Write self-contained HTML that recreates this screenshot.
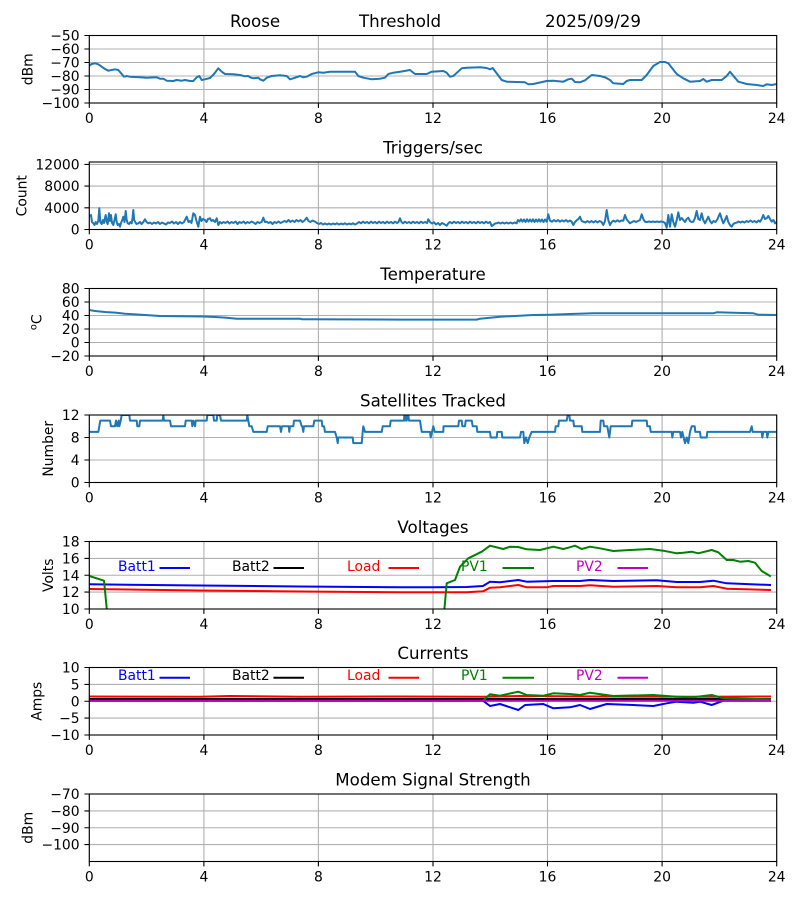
<!DOCTYPE html>
<html><head><meta charset="utf-8"><style>
html,body{margin:0;padding:0;background:#fff;}
svg{display:block;}
text{font-family:"DejaVu Sans","Liberation Sans",sans-serif;fill:#000;}
.tk{font-size:13.9px;}
.ti{font-size:16.67px;}
.g{stroke:#b0b0b0;stroke-width:1.1;fill:none;}
.sp{stroke:#000;stroke-width:1.1;fill:none;}
.d{fill:none;stroke-width:2;stroke-linejoin:round;stroke-linecap:square;}
</style></head><body>
<svg width="800" height="900" viewBox="0 0 800 900" xmlns="http://www.w3.org/2000/svg">
<rect width="800" height="900" fill="#fff"/>
<defs>
<clipPath id="c1"><rect x="89.3" y="35.5" width="687.4" height="67.5"/></clipPath>
<clipPath id="c2"><rect x="89.3" y="162" width="687.4" height="67.5"/></clipPath>
<clipPath id="c3"><rect x="89.3" y="288.5" width="687.4" height="67.5"/></clipPath>
<clipPath id="c4"><rect x="89.3" y="415" width="687.4" height="67.5"/></clipPath>
<clipPath id="c5"><rect x="89.3" y="541.5" width="687.4" height="67.5"/></clipPath>
<clipPath id="c6"><rect x="89.3" y="667.5" width="687.4" height="67.5"/></clipPath>
</defs>

<!-- ============ AXES 1 : Threshold ============ -->
<g class="g">
<path d="M89.3 35.5V103M203.9 35.5V103M318.4 35.5V103M433 35.5V103M547.5 35.5V103M662.1 35.5V103M776.7 35.5V103"/>
<path d="M89.3 35.5H776.7M89.3 49H776.7M89.3 62.5H776.7M89.3 76H776.7M89.3 89.5H776.7M89.3 103H776.7"/>
</g>
<polyline clip-path="url(#c1)" class="d" stroke="#1f77b4" points="89.3,65.7 91.7,64 95,63.3 98.3,64.3 101.7,66.7 105,69 108.3,70.7 111.7,70 115,69.3 118.3,70 121.7,74 124,76.7 126.7,76 130,76.7 140,77.3 146.7,77.7 156.7,77.3 160,78.7 163.3,78.7 166.7,80.7 173.3,81 176.7,80 181.7,80.7 185,80 190,81 193.3,81 196.7,77.3 199.3,76 201.7,80 205,79.3 210,78 214,74 218.3,68.3 221.7,71.7 225,74 233.3,74.3 240,75 245,76.3 248.3,76 250,77.3 253.3,78.3 258.3,77.7 260,79.3 263.3,80.7 266.7,77.7 271.7,76 280,75.3 286.7,76 290,79.3 293.3,78.3 300,76 303.3,77.3 306.7,76.7 311.7,74 318.3,72.3 323.3,72.7 330,71.7 343.3,71.7 355,71.7 358.3,76 363.3,77.7 371.7,79.3 380,78.7 385,77.7 388.3,74 393.3,72.7 400,71.7 410,70 415,74 426.7,74 431.7,71.7 443.3,71 446.7,72.7 450,76.7 453.3,76 461.7,68.3 466.7,67.7 480,67.3 486.7,68 490,69.3 492.7,68 501.7,80 506.7,81.7 525,82.3 528.3,84.3 533.3,84 546.7,81 553.3,80.7 563.3,81.7 568.3,79.3 571.7,78.7 575,82 580,82.3 585,80.3 591.7,75 600,76 605,77.3 610,80 613.3,83.3 623.3,84 626.7,81 630,80 641.7,80 646.7,75 653.3,66 660,62 665,62 668.3,63.3 676.7,74 683.3,78.3 690,81.7 700,81 703.3,79 706.7,81.7 711.7,80 721.7,80 726.7,76 730,71.7 733.3,75.7 738.3,81.7 746.7,84 756.7,85 763.3,86 766.7,84.3 771.7,85 776.7,84"/>
<rect class="sp" x="89.3" y="35.5" width="687.4" height="67.5"/>
<path class="sp" d="M89.3 103v4.9M203.9 103v4.9M318.4 103v4.9M433 103v4.9M547.5 103v4.9M662.1 103v4.9M776.7 103v4.9M89.3 35.5h-4.9M89.3 49h-4.9M89.3 62.5h-4.9M89.3 76h-4.9M89.3 89.5h-4.9M89.3 103h-4.9"/>
<g class="tk" text-anchor="end">
<text x="79.6" y="40.5">−50</text><text x="79.6" y="54">−60</text><text x="79.6" y="67.5">−70</text><text x="79.6" y="81">−80</text><text x="79.6" y="94.5">−90</text><text x="79.6" y="108">−100</text>
</g>
<g class="tk" text-anchor="middle">
<text x="89.3" y="122.8">0</text><text x="203.9" y="122.8">4</text><text x="318.4" y="122.8">8</text><text x="433" y="122.8">12</text><text x="547.5" y="122.8">16</text><text x="662.1" y="122.8">20</text><text x="776.7" y="122.8">24</text>
</g>
<text class="tk" text-anchor="middle" transform="translate(32.5,69.25) rotate(-90)">dBm</text>
<text class="ti" x="230" y="27.2">Roose</text>
<text class="ti" x="359" y="27.2">Threshold</text>
<text class="ti" x="545" y="27.2">2025/09/29</text>

<!-- ============ AXES 2 : Triggers ============ -->
<g class="g">
<path d="M89.3 162V229.5M203.9 162V229.5M318.4 162V229.5M433 162V229.5M547.5 162V229.5M662.1 162V229.5M776.7 162V229.5"/>
<path d="M89.3 229.5H776.7M89.3 207.8H776.7M89.3 186.1H776.7M89.3 164.4H776.7"/>
</g>
<polyline clip-path="url(#c2)" class="d" stroke-width="1.8" stroke="#1f77b4" points="89.3,216 91,215 92,222 93.3,223.3 94.5,225 95.7,222 97,224 98.3,221 99.3,208.3 100.3,222 101.7,224 102.8,220 104,223 105,218 105.7,215 106.7,222 107.7,224 108.3,219 109,213.3 110,221 111,215 112,223 113.3,225 114.5,220 115.7,214.3 116.7,222 117.7,225 119,224 120,226.7 121,223 122.3,220 123.3,216.7 124.5,222 125.7,211 126.7,220 127.7,223.3 129,224 130.5,222 131.7,223.3 132.5,218 133.3,210 134.2,220 135,221.7 136.5,224 138.3,223.3 140,222 141.5,224 143,222.5 145,219.3 146.5,222 148.3,223.3 150,222.5 152,224 154,222.5 156,223.5 158,222 160,224 162,222.5 164,223.5 166,224.5 168,222.5 170,223 172,221.5 174,223.5 176,222 178,224 180,222 182,223.5 184,222 186.7,216.7 188.5,222 190,221 191.5,223 193.3,213.3 195,215 196.5,221 198.3,226.7 200,216.7 201.5,221 203,219 205,220 206.5,222 208,219 210,218.3 211.5,221 213,220 215,222 216.7,218.3 218.3,225 220,222 221.7,223.3 223.5,222 225.5,223 227.5,221.5 229.5,223.5 231.5,222 233.5,223 235.5,221.5 237.5,224 239.5,222 241.5,223 243.5,221.5 245.5,223.5 247.5,222 249.5,223 251.5,221.5 253.5,222.5 255.5,224 257.5,222 259.5,223 261.7,222 263.3,217.7 265,222 266.7,221.7 268.5,223 270.5,222 272.5,224 274.5,222 276.5,223 278.5,221.5 280.5,223 282.5,222 284.5,221 286.5,222 288.5,220 290.5,222 292.5,220.5 294.5,222 296.5,220 298.5,221.5 300.5,220 302.5,222 304.5,220.5 306.7,217.7 308.5,221 310.5,222 312.5,220.5 315,221.7 317,223 319,224 321,223 323,224.5 325,223.5 327,224.5 329,223.5 331,224.5 333,223.5 335,224.3 337,223.3 339,224.5 341,223.5 343,224.3 345,223.3 347,224.5 349,223.5 351,224.3 353,223.3 355,224.5 357,223.5 359,222 361,223.3 363,221.7 365,223 367,222 369,223.3 371,221.7 373,223 375,222 377,223.3 379,221.7 381,223 383,222 385,223.3 387,221.7 389,223 391,222 393,223.3 395,221.7 397,223 398.5,222 400,218.3 401.5,222 403,223.3 405,221.7 407,223 409,222 411,223.3 413,221.7 415,223 417,222 419,223.3 421,221.7 423,223 425,222 427,223 428.3,219.3 430,222 432,223.5 434,222.3 436,224.5 438,223 440,225 442,223 444,224 446.7,225.7 448.5,223 450,222 452,223.3 454,221.7 456,223 458,222 460,223.3 462,221.7 464,223 466,222 468,223.3 470,221.7 472,223 474,222 476,223.3 478,221.7 480,223 482,222 484,223.3 486,221.7 488,223 490,222 491.7,226 493.3,225 495,223.5 496.7,223.3 498.5,222.5 500.5,223.5 502.5,222.5 504.5,223.5 506.5,222.5 508.5,223.5 510.5,222.5 512.5,223.5 514.5,222.5 516.7,223.3 518,220 519.5,221.5 521,219.3 522.5,221.7 524,219.5 525.5,222 527,219.3 528.5,221.7 530,219.5 531.5,221.7 533,219.3 534.5,222 536,219.5 537.5,221.7 539,219.3 540.5,221.7 542,219.5 543.5,222 545,219.5 546.7,221.7 548.3,214.3 550,220.7 552,221.7 554,220 556,221.5 558,220 560,221.7 562,220.3 564,221.5 566,220 568,221.7 570,220.5 571.5,221.5 573.3,225 575,222 577,220 578.5,219 580,216.7 581.7,221 583.3,221.7 585.5,222.5 587.5,221 589.5,222.5 591.5,221 593.5,222.5 595.5,221 597.5,222.5 599.5,221 601.5,222 603.3,225 605,221 606.7,210 608.3,220 610,225 611.7,222 613.3,220.7 615.5,221.7 617.5,220.3 619.5,221.7 621.5,220.5 623.3,220.7 625,215 626.5,219 628,221 630,223.3 632,222 634,221 636,222 638,221 640,220 641.7,214.3 643.3,219 645,221.7 647,222 649,221.5 651,222 653,221.5 655,222 657,221.5 659,222 661,221.5 663.3,222 665,223 666.7,227.7 668.3,215 670,226.7 671.7,214.3 673.3,222 675,226.7 676.7,220 678.3,212.3 680,220 681.7,218 683.3,220 685,222 686.7,219 688.3,217.7 690,221 691.7,222 693.3,221.7 695,218 696.7,211 698.3,219 700,220 701.7,213.3 703.3,220 705,223.3 706.7,220 708.3,216.7 710,221 711.7,223.3 713.5,221 715.5,222 717.5,219 720,213.3 721.7,219 723.3,223.3 725,220 726.7,216 728.3,222 730,225 731.7,226.7 733.3,224 735,223 736.7,222.7 738.5,221.5 740.5,222.5 742.5,221.5 744.5,222.5 746.5,221 748.5,222 750.5,220.5 752.5,222 754.5,221 756.5,222.5 758.5,220.5 760,221.7 761.7,219 763.3,215 765,219 766.7,218.3 768.3,216 770,219 771.7,221.7 773.5,220 775,223.3 776.7,222"/>
<rect class="sp" x="89.3" y="162" width="687.4" height="67.5"/>
<path class="sp" d="M89.3 229.5v4.9M203.9 229.5v4.9M318.4 229.5v4.9M433 229.5v4.9M547.5 229.5v4.9M662.1 229.5v4.9M776.7 229.5v4.9M89.3 229.5h-4.9M89.3 207.8h-4.9M89.3 186.1h-4.9M89.3 164.4h-4.9"/>
<g class="tk" text-anchor="end">
<text x="79.6" y="234.5">0</text><text x="79.6" y="212.8">4000</text><text x="79.6" y="191.1">8000</text><text x="79.6" y="169.4">12000</text>
</g>
<g class="tk" text-anchor="middle">
<text x="89.3" y="249.3">0</text><text x="203.9" y="249.3">4</text><text x="318.4" y="249.3">8</text><text x="433" y="249.3">12</text><text x="547.5" y="249.3">16</text><text x="662.1" y="249.3">20</text><text x="776.7" y="249.3">24</text>
</g>
<text class="tk" text-anchor="middle" transform="translate(26.5,195.75) rotate(-90)">Count</text>
<text class="ti" x="433" y="153.7" text-anchor="middle">Triggers/sec</text>

<!-- ============ AXES 3 : Temperature ============ -->
<g class="g">
<path d="M89.3 288.5V356M203.9 288.5V356M318.4 288.5V356M433 288.5V356M547.5 288.5V356M662.1 288.5V356M776.7 288.5V356"/>
<path d="M89.3 288.5H776.7M89.3 302H776.7M89.3 315.5H776.7M89.3 329H776.7M89.3 342.5H776.7M89.3 356H776.7"/>
</g>
<polyline clip-path="url(#c3)" class="d" stroke="#1f77b4" points="89.3,310 95,311 105,312 116.7,312.7 125,313.7 133.3,314.3 145,315 160,316 203.3,316.5 215,317 226.7,317.7 236.7,318.7 300,318.7 301.7,319.3 400,319.6 476.7,319.6 480,318.7 490,317.7 500,316.7 515,316 533.3,315 550,314.7 570,314 593.3,313.3 713.3,313.3 716.7,312.3 733.3,312.7 753.3,313.3 758.3,314.7 776.7,315"/>
<rect class="sp" x="89.3" y="288.5" width="687.4" height="67.5"/>
<path class="sp" d="M89.3 356v4.9M203.9 356v4.9M318.4 356v4.9M433 356v4.9M547.5 356v4.9M662.1 356v4.9M776.7 356v4.9M89.3 288.5h-4.9M89.3 302h-4.9M89.3 315.5h-4.9M89.3 329h-4.9M89.3 342.5h-4.9M89.3 356h-4.9"/>
<g class="tk" text-anchor="end">
<text x="79.6" y="293.5">80</text><text x="79.6" y="307">60</text><text x="79.6" y="320.5">40</text><text x="79.6" y="334">20</text><text x="79.6" y="347.5">0</text><text x="79.6" y="361">−20</text>
</g>
<g class="tk" text-anchor="middle">
<text x="89.3" y="375.8">0</text><text x="203.9" y="375.8">4</text><text x="318.4" y="375.8">8</text><text x="433" y="375.8">12</text><text x="547.5" y="375.8">16</text><text x="662.1" y="375.8">20</text><text x="776.7" y="375.8">24</text>
</g>
<text class="tk" text-anchor="middle" transform="translate(41.4,322.25) rotate(-90)"><tspan font-size="9.7px" dy="-5">o</tspan><tspan dy="5">C</tspan></text>
<text class="ti" x="433" y="280.2" text-anchor="middle">Temperature</text>

<!-- ============ AXES 4 : Satellites ============ -->
<g class="g">
<path d="M89.3 415V482.5M203.9 415V482.5M318.4 415V482.5M433 415V482.5M547.5 415V482.5M662.1 415V482.5M776.7 415V482.5"/>
<path d="M89.3 415H776.7M89.3 437.5H776.7M89.3 460H776.7M89.3 482.5H776.7"/>
</g>
<polyline clip-path="url(#c4)" class="d" stroke="#1f77b4" points="89.3,431.9 98.3,431.9 99.3,426.25 100.3,420.6 110,420.6 111,426.25 115,426.25 116,420.6 117.3,426.25 118.7,420.6 119.3,426.25 120.7,420.6 121.7,415 129.3,415 130,420.6 136.7,420.6 137.3,426.25 139.3,426.25 140,420.6 162.7,420.6 163.3,415 164,420.6 170,420.6 171,426.25 185,426.25 185.7,420.6 191.7,420.6 192.3,426.25 193.3,420.6 195,426.25 195.7,420.6 206.7,420.6 207.3,415 213.3,415 214,420.6 216.7,420.6 217.3,415 220,415 221,420.6 246.7,420.6 247.3,415 248.3,420.6 249.3,426.25 251.7,426.25 253.3,431.9 266.7,431.9 267.7,426.25 280,426.25 281,431.9 282,426.25 288.7,426.25 289.3,431.9 290,426.25 293.3,426.25 294,420.6 300,420.6 301.7,426.25 302.3,426.25 303.3,431.9 304,426.25 313.3,426.25 314.3,420.6 321.7,420.6 322.3,426.25 324,426.25 325,431.9 335,431.9 336.7,437.5 337.7,443.1 338.3,437.5 352.7,437.5 353.3,443.1 361.7,443.1 362.7,431.9 363.3,426.25 365,431.9 381.7,431.9 382.7,426.25 390,426.25 390.7,420.6 404,420.6 404.3,415 405,420.6 406,415 406.7,420.6 408.3,415 409,420.6 420,420.6 421.7,431.9 430,431.9 430.7,437.5 432,431.9 433.3,426.25 434.7,431.9 443.3,431.9 443.5,426.25 458.3,426.25 459,420.6 461.7,420.6 462.3,426.25 465,426.25 465.7,420.6 471.7,420.6 472.7,426.25 476.7,426.25 477.3,431.9 490,431.9 490.7,437.5 496.7,437.5 497.3,431.9 501.7,431.9 502.3,437.5 520,437.5 521,431.9 523.3,431.9 524.3,443.1 526,437.5 527.7,443.1 529.3,437.5 531.7,431.9 555,431.9 555.7,426.25 558.3,426.25 559,420.6 566.7,420.6 567.7,415 569.3,415 570,420.6 573.3,420.6 574,426.25 581.7,426.25 582.3,431.9 600,431.9 600.7,420.6 603.3,420.6 604,426.25 607.3,426.25 608.3,431.9 609.3,437.5 610.7,426.25 631.7,426.25 632.3,420.6 646.7,420.6 647.3,426.25 650,426.25 650.7,431.9 671.7,431.9 672.3,437.5 673.3,431.9 680,431.9 681,437.5 682.3,431.9 685,443.1 686.7,437.5 688.3,443.1 690,431.9 691.7,426.25 694.7,426.25 695.3,431.9 700,431.9 700.7,437.5 706.7,437.5 707.3,431.9 750,431.9 751.7,426.25 752.7,431.9 761.7,431.9 762.3,437.5 763.3,431.9 766.7,431.9 767.3,437.5 768.3,431.9 776.7,431.9"/>
<rect class="sp" x="89.3" y="415" width="687.4" height="67.5"/>
<path class="sp" d="M89.3 482.5v4.9M203.9 482.5v4.9M318.4 482.5v4.9M433 482.5v4.9M547.5 482.5v4.9M662.1 482.5v4.9M776.7 482.5v4.9M89.3 415h-4.9M89.3 437.5h-4.9M89.3 460h-4.9M89.3 482.5h-4.9"/>
<g class="tk" text-anchor="end">
<text x="79.6" y="420">12</text><text x="79.6" y="442.5">8</text><text x="79.6" y="465">4</text><text x="79.6" y="487.5">0</text>
</g>
<g class="tk" text-anchor="middle">
<text x="89.3" y="502.3">0</text><text x="203.9" y="502.3">4</text><text x="318.4" y="502.3">8</text><text x="433" y="502.3">12</text><text x="547.5" y="502.3">16</text><text x="662.1" y="502.3">20</text><text x="776.7" y="502.3">24</text>
</g>
<text class="tk" text-anchor="middle" transform="translate(53,448.75) rotate(-90)">Number</text>
<text class="ti" x="433" y="406.7" text-anchor="middle">Satellites Tracked</text>

<!-- ============ AXES 5 : Voltages ============ -->
<g class="g">
<path d="M89.3 541.5V609M203.9 541.5V609M318.4 541.5V609M433 541.5V609M547.5 541.5V609M662.1 541.5V609M776.7 541.5V609"/>
<path d="M89.3 541.5H776.7M89.3 558.4H776.7M89.3 575.25H776.7M89.3 592.1H776.7M89.3 609H776.7"/>
</g>
<g clip-path="url(#c5)">
<polyline class="d" stroke="#0000ff" points="89.3,584.3 200,585.5 300,586.5 400,587.3 433,587.3 466.7,587 483,586 490,581.7 500,582.3 518.3,580 526.7,581.7 553.3,581 580,581 590,580 613.3,581 656.7,580.3 676.7,582 700,582 713.3,580.7 726.7,583.3 770,585"/>
<polyline class="d" stroke="#ff0000" points="89.3,589 200,590.5 300,591.5 400,592.3 466.7,592.3 483,591.3 490,587.7 500,587.3 518.3,585 526.7,587.3 546.7,587.3 553.3,586 580,586 590,585.3 613.3,586.7 656.7,586 676.7,587.3 700,587.3 713.3,586 726.7,588.7 770,590"/>
<polyline class="d" stroke="#008000" points="89.3,576 104,580.7 115,692 437,692 446.7,583.3 455,580 460,566.7 468.3,558.3 481.7,551.7 490,545.7 503.3,549 510,546.7 518.3,547 526.7,549.3 540,550 553.3,546.7 563.3,549 568.3,547.7 575,545.7 581.7,549 590,546.7 600,548.3 613.3,551 630,550 650,549 663.3,550.7 676.7,553.3 683.3,552.7 691.7,551.7 698.3,553.3 711.7,550 718.3,552.3 726.7,560 733.3,560 740,561.7 748.3,561 755,562.7 761.7,571 770,576"/>
</g>
<g class="tk">
<text x="118" y="571" fill="#0000ff" style="fill:#0000ff">Batt1</text>
<text x="232" y="571">Batt2</text>
<text x="347" y="571" style="fill:#ff0000">Load</text>
<text x="461" y="571" style="fill:#008000">PV1</text>
<text x="576" y="571" style="fill:#bf00bf">PV2</text>
</g>
<path stroke-width="2" fill="none" stroke="#0000ff" d="M159.5 568H190"/>
<path stroke-width="2" fill="none" stroke="#000" d="M273.5 568H304"/>
<path stroke-width="2" fill="none" stroke="#ff0000" d="M388.5 568H419"/>
<path stroke-width="2" fill="none" stroke="#008000" d="M502.5 568H534"/>
<path stroke-width="2" fill="none" stroke="#bf00bf" d="M617.5 568H648"/>
<rect class="sp" x="89.3" y="541.5" width="687.4" height="67.5"/>
<path class="sp" d="M89.3 609v4.9M203.9 609v4.9M318.4 609v4.9M433 609v4.9M547.5 609v4.9M662.1 609v4.9M776.7 609v4.9M89.3 541.5h-4.9M89.3 558.4h-4.9M89.3 575.25h-4.9M89.3 592.1h-4.9M89.3 609h-4.9"/>
<g class="tk" text-anchor="end">
<text x="79.6" y="546.5">18</text><text x="79.6" y="563.4">16</text><text x="79.6" y="580.25">14</text><text x="79.6" y="597.1">12</text><text x="79.6" y="614">10</text>
</g>
<g class="tk" text-anchor="middle">
<text x="89.3" y="628.8">0</text><text x="203.9" y="628.8">4</text><text x="318.4" y="628.8">8</text><text x="433" y="628.8">12</text><text x="547.5" y="628.8">16</text><text x="662.1" y="628.8">20</text><text x="776.7" y="628.8">24</text>
</g>
<text class="tk" text-anchor="middle" transform="translate(53,575.25) rotate(-90)">Volts</text>
<text class="ti" x="433" y="533.2" text-anchor="middle">Voltages</text>

<!-- ============ AXES 6 : Currents ============ -->
<g class="g">
<path d="M89.3 667.5V735M203.9 667.5V735M318.4 667.5V735M433 667.5V735M547.5 667.5V735M662.1 667.5V735M776.7 667.5V735"/>
<path d="M89.3 667.5H776.7M89.3 684.4H776.7M89.3 701.25H776.7M89.3 718.1H776.7M89.3 735H776.7"/>
</g>
<g clip-path="url(#c6)">
<polyline class="d" stroke="#0000ff" points="89.3,700.7 483,700.7 490,706 500,704 518.3,710 525,705 543.3,704 553.3,708.3 570,707.3 580,705 590,709 606.7,704 633.3,705 653.3,706 666.7,703.3 676.7,701.7 693.3,702.7 700,701.7 711.7,705 723.3,700.7 770,700.7"/>
<polyline class="d" stroke="#000" points="89.3,699 770,699"/>
<polyline class="d" stroke="#ff0000" points="89.3,696.5 200,696.7 230,696 300,696.7 400,696.5 483,696.7 520,696 600,696.5 700,696.7 770,696.5"/>
<polyline class="d" stroke="#008000" points="89.3,700.7 483,700.7 490,694.3 500,695.7 518.3,691.7 526.7,695 543.3,695.7 553.3,693.3 570,694 580,695 590,692.7 613.3,696 653.3,695 676.7,696.7 693.3,697.3 711.7,695 723.3,698.3 770,699.3"/>
<polyline class="d" stroke="#bf00bf" points="89.3,700.8 770,700.8"/>
</g>
<g class="tk">
<text x="118" y="680" style="fill:#0000ff">Batt1</text>
<text x="232" y="680">Batt2</text>
<text x="347" y="680" style="fill:#ff0000">Load</text>
<text x="461" y="680" style="fill:#008000">PV1</text>
<text x="576" y="680" style="fill:#bf00bf">PV2</text>
</g>
<path stroke-width="2" fill="none" stroke="#0000ff" d="M159.5 677.7H190"/>
<path stroke-width="2" fill="none" stroke="#000" d="M273.5 677.7H304"/>
<path stroke-width="2" fill="none" stroke="#ff0000" d="M388.5 677.7H419"/>
<path stroke-width="2" fill="none" stroke="#008000" d="M502.5 677.7H534"/>
<path stroke-width="2" fill="none" stroke="#bf00bf" d="M617.5 677.7H648"/>
<rect class="sp" x="89.3" y="667.5" width="687.4" height="67.5"/>
<path class="sp" d="M89.3 735v4.9M203.9 735v4.9M318.4 735v4.9M433 735v4.9M547.5 735v4.9M662.1 735v4.9M776.7 735v4.9M89.3 667.5h-4.9M89.3 684.4h-4.9M89.3 701.25h-4.9M89.3 718.1h-4.9M89.3 735h-4.9"/>
<g class="tk" text-anchor="end">
<text x="79.6" y="672.5">10</text><text x="79.6" y="689.4">5</text><text x="79.6" y="706.25">0</text><text x="79.6" y="723.1">−5</text><text x="79.6" y="740">−10</text>
</g>
<g class="tk" text-anchor="middle">
<text x="89.3" y="754.8">0</text><text x="203.9" y="754.8">4</text><text x="318.4" y="754.8">8</text><text x="433" y="754.8">12</text><text x="547.5" y="754.8">16</text><text x="662.1" y="754.8">20</text><text x="776.7" y="754.8">24</text>
</g>
<text class="tk" text-anchor="middle" transform="translate(41.4,701.25) rotate(-90)">Amps</text>
<text class="ti" x="433" y="659.2" text-anchor="middle">Currents</text>

<!-- ============ AXES 7 : Modem ============ -->
<g class="g">
<path d="M89.3 794V861.5M203.9 794V861.5M318.4 794V861.5M433 794V861.5M547.5 794V861.5M662.1 794V861.5M776.7 794V861.5"/>
<path d="M89.3 794H776.7M89.3 810.9H776.7M89.3 827.75H776.7M89.3 844.6H776.7"/>
</g>
<rect class="sp" x="89.3" y="794" width="687.4" height="67.5"/>
<path class="sp" d="M89.3 861.5v4.9M203.9 861.5v4.9M318.4 861.5v4.9M433 861.5v4.9M547.5 861.5v4.9M662.1 861.5v4.9M776.7 861.5v4.9M89.3 794h-4.9M89.3 810.9h-4.9M89.3 827.75h-4.9M89.3 844.6h-4.9"/>
<g class="tk" text-anchor="end">
<text x="79.6" y="799">−70</text><text x="79.6" y="815.9">−80</text><text x="79.6" y="832.75">−90</text><text x="79.6" y="849.6">−100</text>
</g>
<g class="tk" text-anchor="middle">
<text x="89.3" y="881.3">0</text><text x="203.9" y="881.3">4</text><text x="318.4" y="881.3">8</text><text x="433" y="881.3">12</text><text x="547.5" y="881.3">16</text><text x="662.1" y="881.3">20</text><text x="776.7" y="881.3">24</text>
</g>
<text class="tk" text-anchor="middle" transform="translate(32.5,827.75) rotate(-90)">dBm</text>
<text class="ti" x="433" y="785.7" text-anchor="middle">Modem Signal Strength</text>
</svg>
</body></html>
